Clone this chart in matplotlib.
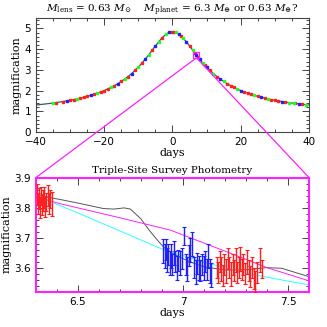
import numpy as np
import matplotlib
matplotlib.use("Agg")
import matplotlib.pyplot as plt
from matplotlib.patches import ConnectionPatch
from matplotlib.ticker import MultipleLocator

plt.rcParams['font.family'] = ['DejaVu Sans']
plt.rcParams['mathtext.fontset'] = 'dejavuserif'

# ---- top panel: model light curve ----
model_t = [-40, -38, -36, -34, -32, -30, -28, -26, -24, -22, -20, -18, -16,
           -14, -13, -12, -11, -10, -9, -8, -7, -6, -5, -4, -3, -2, -1, 0,
           1, 2, 3, 4, 5, 6, 7, 8, 9, 10, 11, 12, 13, 14,
           16, 18, 20, 22, 24, 26, 28, 30, 32, 34, 36, 38, 40]
model_A = [1.308, 1.342, 1.381, 1.425, 1.475, 1.533, 1.600, 1.678, 1.769, 1.876, 2.002, 2.154, 2.335,
           2.553, 2.679, 2.818, 2.970, 3.136, 3.316, 3.511, 3.719, 3.935, 4.153, 4.364, 4.553, 4.706, 4.806, 4.840,
           4.806, 4.706, 4.553, 4.364, 4.153, 3.935, 3.719, 3.511, 3.316, 3.136, 2.970, 2.818, 2.679, 2.553,
           2.335, 2.154, 2.002, 1.876, 1.769, 1.678, 1.600, 1.533, 1.475, 1.425, 1.381, 1.342, 1.308]

# top panel data (three sites)
red_t = [-34, -32, -30, -29, -27, -26, -25, -23, -21, -20, -19, -17, -15, -13, -11, -9, -6, -3,
         0, 0.5, 2.5, 5, 6.5, 7.5, 9.5, 11, 13, 16, 17, 18, 21, 22, 23, 25, 27, 29, 30, 31, 33, 36, 38]
red_A = [1.425, 1.475, 1.533, 1.565, 1.637, 1.678, 1.721, 1.820, 1.936, 2.002, 2.075, 2.240, 2.439, 2.679,
         2.970, 3.316, 3.935, 4.553, 4.840, 4.830, 4.640, 4.153, 3.830, 3.615, 3.225, 2.970, 2.679, 2.335,
         2.240, 2.154, 1.936, 1.876, 1.820, 1.721, 1.637, 1.565, 1.533, 1.503, 1.449, 1.381, 1.342]
green_t = [-35, -28, -22, -18, -14, -10, -7, -4, -2, 1, 3, 6, 9, 12, 15, 19, 24, 28, 34, 35.5, 39]
green_A = [1.402, 1.600, 1.876, 2.154, 2.553, 3.136, 3.719, 4.364, 4.706, 4.806, 4.553, 3.935, 3.316,
           2.818, 2.439, 2.075, 1.769, 1.600, 1.425, 1.391, 1.325]
blue_t = [-31, -24, -16, -12, -8, -5, -1, 2, 4, 7, 8, 10, 14, 20, 26, 32, 37]
blue_A = [1.503, 1.769, 2.335, 2.818, 3.511, 4.153, 4.806, 4.706, 4.364, 3.719, 3.511, 3.136, 2.553,
          2.002, 1.678, 1.475, 1.361]
top_err = 0.03

# ---- bottom panel: zoom on the anomaly ----
black_t = [6.3, 6.415, 6.5, 6.62, 6.67, 6.72, 6.75, 6.8, 6.84, 6.88, 6.91, 6.95, 7.0, 7.05, 7.1,
           7.2, 7.3, 7.4, 7.47, 7.53, 7.6]
black_A = [3.842, 3.827, 3.815, 3.797, 3.795, 3.799, 3.795, 3.762, 3.724, 3.690, 3.667, 3.648, 3.630,
           3.615, 3.603, 3.592, 3.593, 3.600, 3.598, 3.585, 3.570]
magenta_t = [6.3, 6.415, 6.7, 6.94, 7.2, 7.4, 7.6]
magenta_A = [3.835, 3.813, 3.766, 3.725, 3.655, 3.600, 3.556]
cyan_t = [6.3, 6.5, 6.7, 6.9, 7.1, 7.3, 7.5, 7.6]
cyan_A = [3.840, 3.782, 3.722, 3.662, 3.618, 3.582, 3.555, 3.543]

site1_t = [6.305, 6.310, 6.315, 6.320, 6.325, 6.330, 6.335, 6.340, 6.345, 6.350, 6.355, 6.360, 6.365, 6.375]
site1_A = [3.845, 3.815, 3.830, 3.800, 3.840, 3.810, 3.825, 3.835, 3.805, 3.820, 3.840, 3.815, 3.830, 3.812]
site1_e = [0.035, 0.035, 0.035, 0.035, 0.030, 0.035, 0.035, 0.035, 0.035, 0.030, 0.035, 0.035, 0.030, 0.040]

site2_t = [6.905, 6.912, 6.918, 6.925, 6.930, 6.936, 6.942, 6.948, 6.955, 6.962, 6.970, 6.978, 6.985,
           6.993, 7.003, 7.012, 7.020, 7.028, 7.035, 7.045, 7.052, 7.060, 7.068, 7.075, 7.083, 7.090,
           7.098, 7.106, 7.114, 7.120, 7.128, 7.135]
site2_A = [3.655, 3.640, 3.660, 3.625, 3.645, 3.615, 3.640, 3.610, 3.650, 3.620, 3.600, 3.625, 3.615,
           3.630, 3.705, 3.610, 3.595, 3.640, 3.660, 3.680, 3.600, 3.585, 3.615, 3.600, 3.590, 3.610,
           3.600, 3.620, 3.595, 3.640, 3.590, 3.575]
site2_e = [0.04, 0.04, 0.035, 0.04, 0.035, 0.04, 0.04, 0.035, 0.04, 0.035, 0.04, 0.035, 0.04,
           0.035, 0.03, 0.035, 0.04, 0.035, 0.04, 0.04, 0.035, 0.04, 0.035, 0.04, 0.035, 0.035,
           0.04, 0.035, 0.035, 0.04, 0.04, 0.04]

site3_t = [7.160, 7.168, 7.175, 7.182, 7.190, 7.196, 7.204, 7.212, 7.220, 7.228, 7.236, 7.243, 7.250,
           7.258, 7.265, 7.272, 7.280, 7.288, 7.296, 7.304, 7.312, 7.320, 7.328, 7.336, 7.344, 7.352,
           7.365, 7.378]
site3_A = [3.600, 3.585, 3.620, 3.595, 3.575, 3.610, 3.590, 3.630, 3.600, 3.580, 3.610, 3.590, 3.625,
           3.585, 3.600, 3.630, 3.595, 3.610, 3.580, 3.620, 3.590, 3.570, 3.600, 3.565, 3.555, 3.585,
           3.625, 3.595]
site3_e = [0.035, 0.035, 0.035, 0.04, 0.035, 0.035, 0.04, 0.035, 0.035, 0.04, 0.035, 0.035, 0.04,
           0.035, 0.035, 0.04, 0.035, 0.035, 0.035, 0.04, 0.035, 0.035, 0.035, 0.035, 0.035, 0.035,
           0.04, 0.03]

title_top = (r"$M_{\rm lens}$ = 0.63 $M_{\odot}$    $M_{\rm planet}$ = 6.3 $M_{\oplus}$"
             r" or 0.63 $M_{\oplus}$?")
title_bot = "Triple-Site Survey Photometry"

RED = '#ff2020'
GREEN = '#20ff20'
BLUE = '#2020ff'
MAG = '#ff20ff'
CYAN = '#30ffff'
AXC = '#444444'
serif = 'DejaVu Serif'


def style(ax):
    ax.tick_params(which='both', direction='in', top=True, right=True,
                   colors=AXC, labelcolor='black', labelsize=7.5, width=0.7)
    ax.tick_params(which='major', length=5)
    ax.tick_params(which='minor', length=2.5)


fig = plt.figure(figsize=(3.27, 3.27), dpi=100)

# top panel
ax1 = fig.add_axes([0.110, 0.596, 0.835, 0.349])
ax1.plot(model_t, model_A, color='#306060', lw=0.9, zorder=2)
for t, a, c in [(red_t, red_A, RED), (green_t, green_A, GREEN), (blue_t, blue_A, BLUE)]:
    ax1.errorbar(t, a, yerr=top_err, fmt='s', ms=1.6, color=c, mec=c,
                 elinewidth=0.5, capsize=0, zorder=3)
ax1.plot([7.03], [3.72], 's', ms=5, mfc='none', mec=MAG, mew=0.9, zorder=4)
ax1.set_xlim(-40, 40)
ax1.set_ylim(0, 5.5)
ax1.xaxis.set_major_locator(MultipleLocator(20))
ax1.xaxis.set_minor_locator(MultipleLocator(5))
ax1.yaxis.set_major_locator(MultipleLocator(1))
ax1.yaxis.set_minor_locator(MultipleLocator(0.2))
style(ax1)
for s in ax1.spines.values():
    s.set_color(AXC)
    s.set_linewidth(0.8)
ax1.set_xlabel('days', family=serif, fontsize=8, labelpad=1)
ax1.set_ylabel('magnification', family=serif, fontsize=8, labelpad=2)
ax1.set_title(title_top, family=serif, fontsize=7.5, pad=3)

# bottom panel
ax2 = fig.add_axes([0.110, 0.108, 0.835, 0.349])
ax2.plot(black_t, black_A, color='#555555', lw=0.7, zorder=2)
ax2.plot(magenta_t, magenta_A, color=MAG, lw=0.7, zorder=2)
ax2.plot(cyan_t, cyan_A, color=CYAN, lw=0.7, zorder=2)
for t, a, e, c in [(site1_t, site1_A, site1_e, RED), (site2_t, site2_A, site2_e, BLUE),
                   (site3_t, site3_A, site3_e, RED)]:
    ax2.errorbar(t, a, yerr=e, fmt='none', ecolor=c, elinewidth=1.0, capsize=1.5,
                 capthick=0.8, zorder=3)
ax2.set_xlim(6.3, 7.6)
ax2.set_ylim(3.52, 3.9)
ax2.xaxis.set_minor_locator(MultipleLocator(0.1))
ax2.yaxis.set_minor_locator(MultipleLocator(0.02))
ax2.set_yticks([3.6, 3.7, 3.8, 3.9])
ax2.set_yticklabels(['3.6', '3.7', '3.8', '3.9'])
ax2.set_xticks([6.5, 7.0, 7.5])
ax2.set_xticklabels(['6.5', '7', '7.5'])
style(ax2)
for s in ax2.spines.values():
    s.set_color(MAG)
    s.set_linewidth(1.5)
ax2.set_xlabel('days', family=serif, fontsize=8, labelpad=1)
ax2.set_ylabel('magnification', family=serif, fontsize=8, labelpad=2)
ax2.set_title(title_bot, family=serif, fontsize=7.5, pad=3)

# zoom connectors
for corner in [(0, 1), (1, 1)]:
    con = ConnectionPatch(xyA=(7.0, 3.58), coordsA=ax1.transData,
                          xyB=corner, coordsB=ax2.transAxes,
                          color=MAG, lw=0.9, zorder=1)
    fig.add_artist(con)

fig.savefig('out.png', dpi=100)
